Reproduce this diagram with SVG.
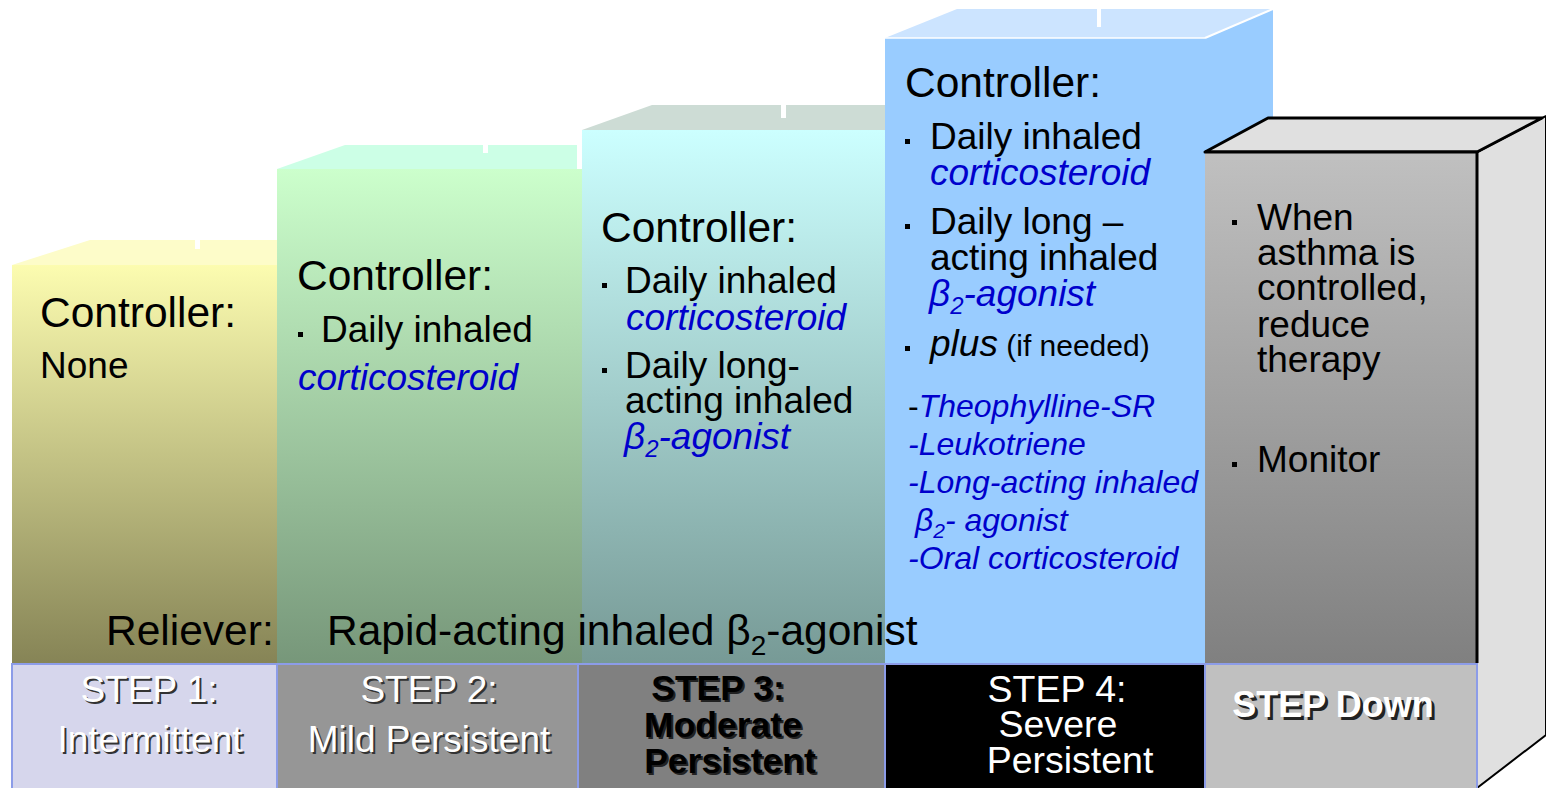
<svg xmlns="http://www.w3.org/2000/svg" width="1546" height="788" viewBox="0 0 1546 788">
<defs>
<linearGradient id="g1" x1="0" y1="0" x2="0" y2="1"><stop offset="0" stop-color="#fcfcb0"/><stop offset="1" stop-color="#868456"/></linearGradient>
<linearGradient id="g2" x1="0" y1="0" x2="0" y2="1"><stop offset="0" stop-color="#ccffcc"/><stop offset="1" stop-color="#77977a"/></linearGradient>
<linearGradient id="g3" x1="0" y1="0" x2="0" y2="1"><stop offset="0" stop-color="#ccffff"/><stop offset="1" stop-color="#779a96"/></linearGradient>
<linearGradient id="g5" x1="0" y1="0" x2="0" y2="1"><stop offset="0" stop-color="#c0c0c0"/><stop offset="1" stop-color="#808080"/></linearGradient>
<style>
text{font-family:"Liberation Sans",Arial,sans-serif}
.ctl{font-size:42.5px;fill:#000}
.b{font-size:37px;fill:#000}
.bl{font-size:37px;fill:#0000cc;font-style:italic}
.li{font-size:32px;fill:#0000cc;font-style:italic}
.lab{font-size:37px;fill:#fff;text-anchor:middle}
.sh{font-size:37px;fill:#333;text-anchor:middle}
.cell{stroke:#8c9ce8;stroke-width:2}
.notch{fill:#fff}
</style>
</defs>
<rect width="1546" height="788" fill="#fff"/>

<g id="step1">
<polygon points="12,265 90,240 277,240 277,265" fill="#fdfcc9"/>
<rect class="notch" x="195" y="240" width="5" height="9"/>
<rect x="12" y="265" width="265" height="398" fill="url(#g1)"/>
<text class="ctl" x="40" y="327">Controller:</text>
<text x="40" y="378" style="font-size:37px">None</text>
</g>

<g id="step2">
<polygon points="277,169 345,145 577,145 577,169" fill="#ccffe6"/>
<rect class="notch" x="483" y="145" width="5" height="8"/>
<rect x="277" y="169" width="305" height="494" fill="url(#g2)"/>
<text class="ctl" x="297" y="290">Controller:</text>
<rect x="298" y="332" width="5" height="5"/>
<text class="b" x="321" y="342">Daily inhaled</text>
<text class="bl" x="298" y="390">corticosteroid</text>
</g>

<g id="step3">
<polygon points="582,130 652,105 885,105 885,130" fill="#cddcd5"/>
<rect class="notch" x="781" y="105" width="5" height="13"/>
<rect x="582" y="130" width="303" height="533" fill="url(#g3)"/>
<text class="ctl" x="601" y="242">Controller:</text>
<rect x="602" y="283" width="5" height="5"/>
<text class="b" x="625" y="293">Daily inhaled</text>
<text class="bl" x="626" y="330">corticosteroid</text>
<rect x="602" y="368" width="5" height="5"/>
<text class="b" x="625" y="378">Daily long-</text>
<text class="b" x="625" y="413">acting inhaled</text>
<text class="bl" x="624" y="449">β<tspan font-size="24" dy="8">2</tspan><tspan dy="-8">-agonist</tspan></text>
</g>

<g id="step4">
<polygon points="1205,38 1273,9 1273,152 1205,152" fill="#99ccff"/>
<polygon points="885,38 957,9 1273,9 1205,38" fill="#cce4ff"/>
<line x1="1205" y1="38" x2="1273" y2="9" stroke="#fff" stroke-width="2"/>
<rect class="notch" x="1097" y="9" width="4" height="18"/>
<rect x="885" y="38" width="320" height="625" fill="#99ccff"/>
<line x1="885" y1="38" x2="1205" y2="38" stroke="#fff" stroke-width="1.5"/>
<text class="ctl" x="905" y="97">Controller:</text>
<rect x="905" y="139" width="5" height="5"/>
<text class="b" x="930" y="149">Daily inhaled</text>
<text class="bl" x="930" y="185">corticosteroid</text>
<rect x="905" y="224" width="5" height="5"/>
<text class="b" x="930" y="234">Daily long –</text>
<text class="b" x="930" y="270">acting inhaled</text>
<text class="bl" x="929" y="306">β<tspan font-size="24" dy="8">2</tspan><tspan dy="-8">-agonist</tspan></text>
<rect x="905" y="346" width="5" height="5"/>
<text class="b" x="930" y="356"><tspan font-style="italic">plus</tspan><tspan font-size="30"> (if needed)</tspan></text>
<text class="li" x="908" y="417"><tspan fill="#000" font-style="normal">-</tspan>Theophylline-SR</text>
<text class="li" x="908" y="455">-Leukotriene</text>
<text class="li" x="908" y="493">-Long-acting inhaled</text>
<text class="li" x="915" y="531">β<tspan font-size="21" dy="7">2</tspan><tspan dy="-7">- agonist</tspan></text>
<text class="li" x="908" y="569">-Oral corticosteroid</text>
</g>

<g id="stepdown">
<polygon points="1477,152 1542,118 1546,116 1546,735 1477,788" fill="#e0e0e0" stroke="#000" stroke-width="2"/>
<polygon points="1205,152 1268,118 1542,118 1477,152" fill="#e0e0e0" stroke="#000" stroke-width="3" stroke-linejoin="round"/>
<rect x="1205" y="152" width="272" height="511" fill="url(#g5)"/>
<line x1="1477" y1="152" x2="1477" y2="663" stroke="#000" stroke-width="3"/>
<line x1="1205" y1="152" x2="1477" y2="152" stroke="#000" stroke-width="3"/>
<rect x="1232" y="220" width="5" height="5"/>
<text class="b" x="1257" y="230">When</text>
<text class="b" x="1257" y="265">asthma is</text>
<text class="b" x="1257" y="300">controlled,</text>
<text class="b" x="1257" y="337">reduce</text>
<text class="b" x="1257" y="372">therapy</text>
<rect x="1232" y="462" width="5" height="5"/>
<text class="b" x="1257" y="472">Monitor</text>
</g>

<g id="reliever">
<text x="106" y="645" style="font-size:42.5px;fill:#000">Reliever:</text>
<text x="327" y="645" style="font-size:42.5px;fill:#000">Rapid-acting inhaled β<tspan font-size="28" dy="10">2</tspan><tspan dy="-10">-agonist</tspan></text>
</g>

<g id="labels">
<rect class="cell" x="12" y="664" width="265" height="130" fill="#d6d6ec"/>
<rect class="cell" x="277" y="664" width="301" height="130" fill="#969696"/>
<rect class="cell" x="578" y="664" width="307" height="130" fill="#808080"/>
<rect class="cell" x="885" y="664" width="320" height="130" fill="#000"/>
<rect class="cell" x="1205" y="664" width="272" height="130" fill="#c0c0c0"/>
<g id="lab1">
<text class="sh" x="151" y="704">STEP 1:</text><text class="lab" x="149" y="702">STEP 1:</text>
<text class="sh" x="152" y="754">Intermittent</text><text class="lab" x="150" y="752">Intermittent</text>
</g>
<g id="lab2">
<text class="sh" x="431" y="704">STEP 2:</text><text class="lab" x="429" y="702">STEP 2:</text>
<text class="sh" x="431" y="754">Mild Persistent</text><text class="lab" x="429" y="752">Mild Persistent</text>
</g>
<g id="lab3" style="font-weight:bold;font-size:35.5px;text-anchor:middle">
<text x="720" y="702" fill="#222">STEP 3:</text><text x="718" y="700" fill="#000">STEP 3:</text>
<text x="725" y="739" fill="#222">Moderate</text><text x="723" y="737" fill="#000">Moderate</text>
<text x="732" y="775" fill="#222">Persistent</text><text x="730" y="773" fill="#000">Persistent</text>
</g>
<g id="lab4" style="font-size:37.5px;fill:#fff;text-anchor:middle">
<text x="1057" y="702">STEP 4:</text>
<text x="1058" y="737">Severe</text>
<text x="1070" y="773">Persistent</text>
</g>
<g id="labdown" style="font-weight:bold;font-size:36px;text-anchor:middle">
<text x="1336" y="720" fill="#222">STEP Down</text><text x="1333" y="717" fill="#fff">STEP Down</text>
</g>
</g>
</svg>
